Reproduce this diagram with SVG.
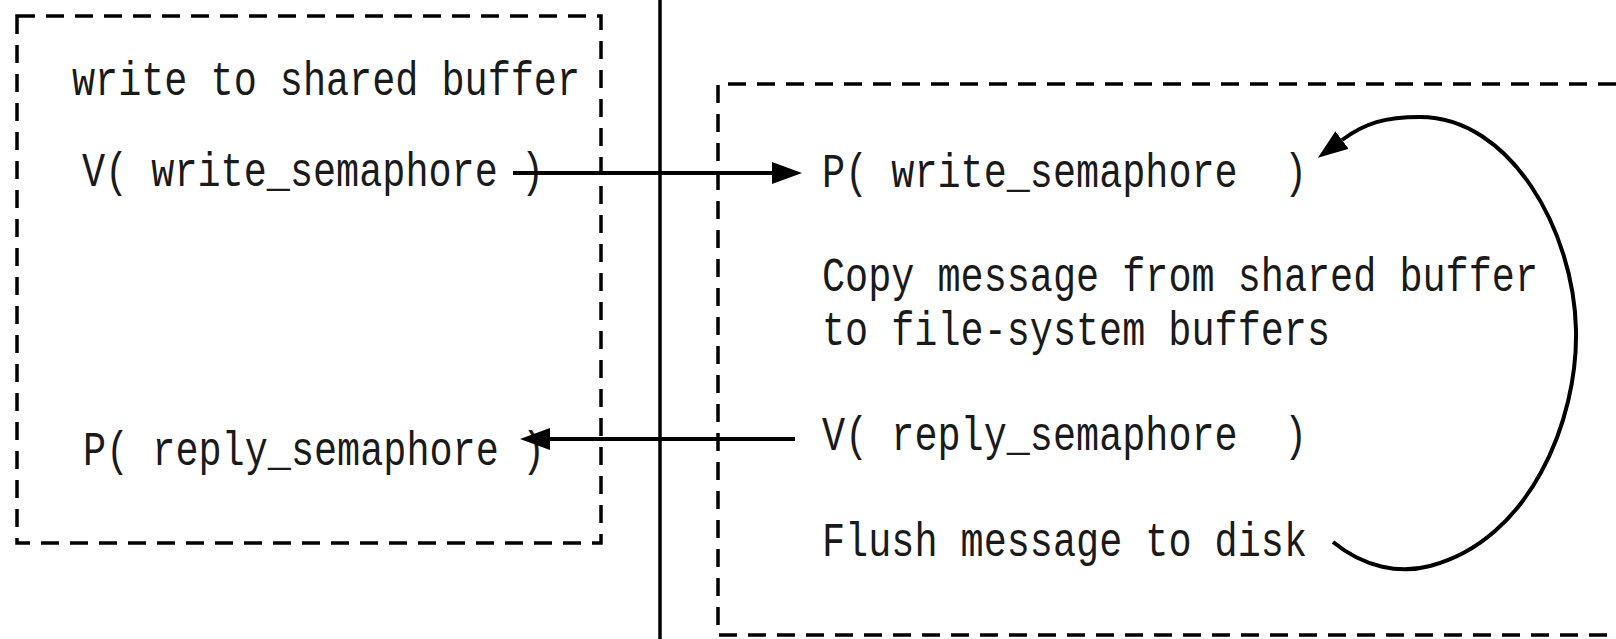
<svg xmlns="http://www.w3.org/2000/svg" width="1616" height="639" viewBox="0 0 1616 639">
  <style>
    .box { fill: none; stroke: #000; stroke-width: 3.5; stroke-dasharray: 18 11; }
    .wall { fill: none; stroke: #000; stroke-width: 3.5; }
    .link { fill: none; stroke: #000; stroke-width: 4; }
    .loop { fill: none; stroke: #000; stroke-width: 4; }
    .t { font-family: "Liberation Mono", "Courier New", monospace; font-size: 48px; fill: #1a1a1a; white-space: pre; }
  </style>
  <defs>
    <marker id="head" viewBox="0 0 30 22" refX="0" refY="11" markerWidth="30" markerHeight="22" orient="auto" markerUnits="userSpaceOnUse">
      <path d="M0,0 L30,11 L0,22 z" fill="#000"/>
    </marker>
  </defs>

  <rect width="1616" height="639" fill="#fff"/>

  <!-- process boundary -->
  <line class="wall" x1="660" y1="0" x2="660" y2="639"/>

  <!-- client process -->
  <g id="client">
    <rect class="box" x="17" y="16" width="584" height="527"/>
    <text class="t" x="72" y="95" textLength="508" lengthAdjust="spacingAndGlyphs">write to shared buffer</text>
    <text class="t" x="82" y="186" textLength="462" lengthAdjust="spacingAndGlyphs">V( write_semaphore )</text>
    <text class="t" x="83" y="465" textLength="462" lengthAdjust="spacingAndGlyphs">P( reply_semaphore )</text>
  </g>

  <!-- logger process (open on the right) -->
  <g id="logger">
    <path class="box" d="M1616,84 H718 V635 H1616"/>
    <text class="t" x="822" y="187" textLength="485" lengthAdjust="spacingAndGlyphs">P( write_semaphore  )</text>
    <text class="t" x="822" y="291" textLength="716" lengthAdjust="spacingAndGlyphs">Copy message from shared buffer</text>
    <text class="t" x="822" y="345" textLength="508" lengthAdjust="spacingAndGlyphs">to file-system buffers</text>
    <text class="t" x="822" y="450" textLength="485" lengthAdjust="spacingAndGlyphs">V( reply_semaphore  )</text>
    <text class="t" x="822" y="556" textLength="485" lengthAdjust="spacingAndGlyphs">Flush message to disk</text>
  </g>

  <!-- connectors -->
  <g id="connectors">
    <line class="link" x1="513" y1="173" x2="772" y2="173" marker-end="url(#head)"/>
    <line class="link" x1="795" y1="439" x2="550" y2="439" marker-end="url(#head)"/>
    <path class="loop" d="M1333,542 C1365,568 1400,574 1430,566 C1530,540 1578,420 1576,330 C1574,230 1510,117 1420,117 C1385,117 1365,123 1342,140" marker-end="url(#head)"/>
  </g>
</svg>
